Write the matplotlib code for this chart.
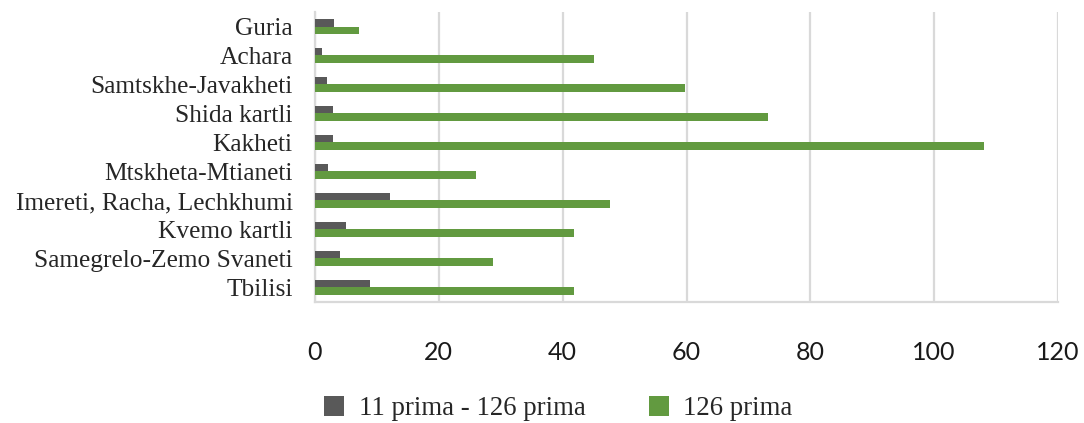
import matplotlib
matplotlib.use("Agg")
import matplotlib.pyplot as plt
import numpy as np
from matplotlib.patches import Patch

# Regions listed bottom to top, as drawn on the horizontal bar chart
regions = ["Tbilisi", "Samegrelo-Zemo Svaneti", "Kvemo kartli",
           "Imereti, Racha, Lechkhumi", "Mtskheta-Mtianeti", "Kakheti",
           "Shida kartli", "Samtskhe-Javakheti", "Achara", "Guria"]
series_11_126 = [8.9, 4.0, 5.0, 12.1, 2.1, 2.9, 2.9, 1.9, 1.1, 3.1]
series_126 = [41.8, 28.7, 41.9, 47.7, 26.0, 108.0, 73.2, 59.8, 45.0, 7.1]
series_names = ["11 prima - 126 prima", "126 prima"]
x_ticks = [0, 20, 40, 60, 80, 100, 120]

GRAY = "#595959"
GREEN = "#629A40"
GRID = "#D9D9D9"

fig = plt.figure(figsize=(10.84, 4.23), dpi=100)
ax = fig.add_axes([315 / 1084, (423 - 302) / 423, (1058 - 315) / 1084, 290 / 423])

y = np.arange(len(regions))
h = 0.245
ax.barh(y + h / 2, series_11_126, height=h, color=GRAY, zorder=3)
ax.barh(y - h / 2, series_126, height=h, color=GREEN, zorder=3)

ax.set_xlim(0, 120)
ax.set_ylim(-0.5, len(regions) - 0.5)
ax.set_xticks(x_ticks)
ax.set_xticklabels([str(t) for t in x_ticks], fontfamily=["Lato", "DejaVu Sans"],
                   fontsize=18, color="#1a1a1a")
ax.set_yticks(y)
ax.set_yticklabels(regions, fontfamily=["Liberation Serif", "DejaVu Serif"],
                   fontsize=18.3, color="#262626")
ax.tick_params(axis="x", length=0, pad=28)
ax.tick_params(axis="y", length=0, pad=16)

ax.grid(axis="x", color=GRID, linewidth=1.6, zorder=0)
for side in ("top", "right"):
    ax.spines[side].set_visible(False)
for side in ("left", "bottom"):
    ax.spines[side].set_color(GRID)
    ax.spines[side].set_linewidth(1.6)

handles = [Patch(facecolor=GRAY, edgecolor="none"),
           Patch(facecolor=GREEN, edgecolor="none")]
fig.legend(handles, series_names, loc="center left",
           bbox_to_anchor=(324 / 1084, (423 - 408.5) / 423),
           ncol=2, frameon=False, borderpad=0, borderaxespad=0,
           handlelength=0.75, handleheight=0.75, handletextpad=0.55,
           columnspacing=2.35,
           prop={"family": ["Liberation Serif", "DejaVu Serif"], "size": 19.3},
           labelcolor="#262626")

fig.savefig("out.png", dpi=100)
